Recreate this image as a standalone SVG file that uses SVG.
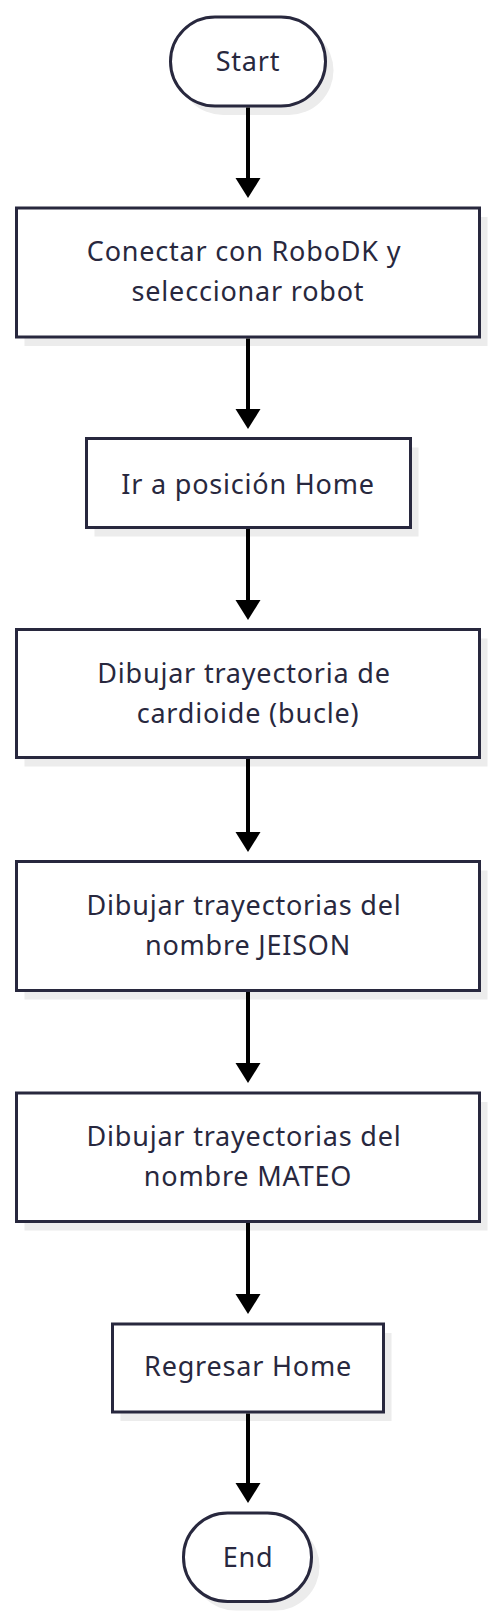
<svg xmlns="http://www.w3.org/2000/svg" width="496" height="1620" viewBox="0 0 496 1620">
<style>
.shadow{fill:#ececec}
.node{fill:#ffffff;stroke:#28283e;stroke-width:3}
.label{font-family:"Noto Sans",sans-serif;font-size:27px;letter-spacing:0.8px;fill:#28283e;text-anchor:middle}
.edge{stroke:#000000;stroke-width:4;fill:none}
</style>
<defs>
<marker id="arrow" markerUnits="userSpaceOnUse" markerWidth="22" markerHeight="26" refX="2" refY="12.5" orient="auto">
<path d="M0,0 L20,12.5 L0,25 z" fill="#000000"/>
</marker>
</defs>
<g id="start">
<rect class="shadow" x="178.5" y="26" width="155" height="89" rx="44.5"/>
<rect class="node" x="170.5" y="17" width="155" height="89" rx="44.5"/>
<text class="label" x="248" y="71">Start</text>
</g>
<g id="conectar">
<rect class="shadow" x="24.5" y="217" width="463" height="129"/>
<rect class="node" x="16.5" y="208" width="463" height="129"/>
<text class="label" x="244" y="261">Conectar con RoboDK y</text>
<text class="label" x="248" y="301">seleccionar robot</text>
</g>
<g id="home">
<rect class="shadow" x="94.5" y="447.5" width="324" height="89"/>
<rect class="node" x="86.5" y="438.5" width="324" height="89"/>
<text class="label" x="248" y="494">Ir a posición Home</text>
</g>
<g id="cardioide">
<rect class="shadow" x="24.5" y="638.5" width="463" height="128"/>
<rect class="node" x="16.5" y="629.5" width="463" height="128"/>
<text class="label" x="244" y="683">Dibujar trayectoria de</text>
<text class="label" x="248" y="723">cardioide (bucle)</text>
</g>
<g id="jeison">
<rect class="shadow" x="24.5" y="870.5" width="463" height="129"/>
<rect class="node" x="16.5" y="861.5" width="463" height="129"/>
<text class="label" x="244" y="915">Dibujar trayectorias del</text>
<text class="label" x="248" y="955">nombre JEISON</text>
</g>
<g id="mateo">
<rect class="shadow" x="24.5" y="1102" width="463" height="128.5"/>
<rect class="node" x="16.5" y="1093" width="463" height="128.5"/>
<text class="label" x="244" y="1146">Dibujar trayectorias del</text>
<text class="label" x="248" y="1186">nombre MATEO</text>
</g>
<g id="regresar">
<rect class="shadow" x="120.5" y="1333" width="271" height="88"/>
<rect class="node" x="112.5" y="1324" width="271" height="88"/>
<text class="label" x="248" y="1376">Regresar Home</text>
</g>
<g id="end">
<rect class="shadow" x="191.5" y="1522" width="128" height="88.5" rx="44"/>
<rect class="node" x="183.5" y="1513" width="128" height="88.5" rx="44"/>
<text class="label" x="248" y="1567">End</text>
</g>
<g id="connectors">
<line class="edge" x1="248" y1="107.5" x2="248" y2="180" marker-end="url(#arrow)"/>
<line class="edge" x1="248" y1="338.5" x2="248" y2="411" marker-end="url(#arrow)"/>
<line class="edge" x1="248" y1="529" x2="248" y2="602" marker-end="url(#arrow)"/>
<line class="edge" x1="248" y1="759" x2="248" y2="834" marker-end="url(#arrow)"/>
<line class="edge" x1="248" y1="992" x2="248" y2="1065" marker-end="url(#arrow)"/>
<line class="edge" x1="248" y1="1223" x2="248" y2="1296" marker-end="url(#arrow)"/>
<line class="edge" x1="248" y1="1413.5" x2="248" y2="1485" marker-end="url(#arrow)"/>
</g>
</svg>
